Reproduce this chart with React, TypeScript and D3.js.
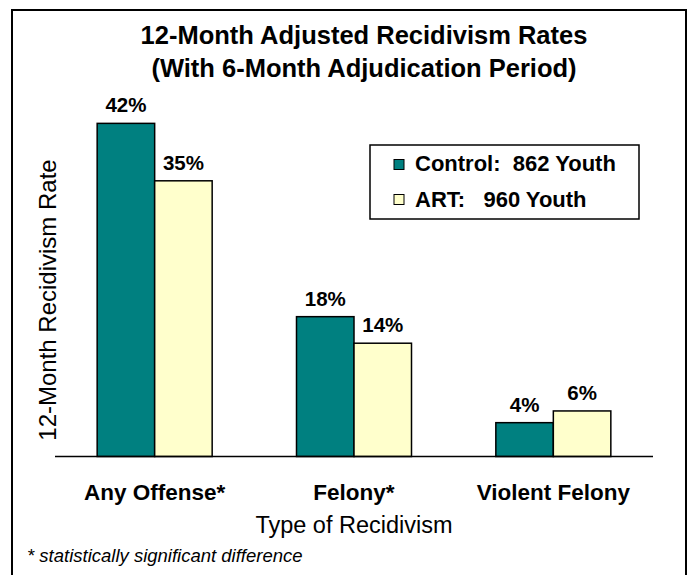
import React from "react";
import * as d3 from "d3";

const categories = ["Any Offense*", "Felony*", "Violent Felony"];
const seriesNames = ["Control:  862 Youth", "ART:   960 Youth"];
const controlValues = [42.05, 17.65, 4.27];
const artValues = [34.8, 14.3, 5.75];
const colors = ["#008080", "#FFFFCC"];
const titleLines = ["12-Month Adjusted Recidivism Rates", "(With 6-Month Adjudication Period)"];
const yTitle = "12-Month Recidivism Rate";
const xTitle = "Type of Recidivism";
const footnote = "* statistically significant difference";

const W = 690;
const H = 575;
const FONT = "'Liberation Sans', Arial, sans-serif";

export default function App() {
  const x0 = d3.scaleBand().domain(categories).range([55, 653]).paddingInner(0).paddingOuter(0);
  const groupW = 115;
  const x1 = d3.scaleBand().domain(["0", "1"]).range([0, groupW]);
  const y = d3.scaleLinear().domain([0, 45]).range([456.5, 100]);
  const series = [controlValues, artValues];

  return (
    <svg width={W} height={H} style={{ position: "absolute", left: 0, top: 0, background: "#fff" }}>
      <rect x={12} y={10} width={674} height={566} fill="#fff" stroke="#000" strokeWidth={2} />
      {titleLines.map((t, i) => (
        <text key={i} x={364} y={44 + i * 33} textAnchor="middle" fontFamily={FONT} fontWeight="bold" fontSize={25.5}>
          {t}
        </text>
      ))}
      {categories.map((c, ci) => {
        const gx = (x0(c) as number) + (x0.bandwidth() - groupW) / 2;
        return (
          <g key={c}>
            {series.map((vals, si) => {
              const bx = gx + (x1(String(si)) as number);
              const by = y(vals[ci]);
              return (
                <g key={si}>
                  <rect x={bx} y={by} width={x1.bandwidth()} height={y(0) - by} fill={colors[si]} stroke="#000" strokeWidth={1.5} />
                  <text x={bx + x1.bandwidth() / 2} y={by - 11} textAnchor="middle" fontFamily={FONT} fontWeight="bold" fontSize={20.5}>
                    {Math.round(vals[ci]) + "%"}
                  </text>
                </g>
              );
            })}
            <text x={(x0(c) as number) + x0.bandwidth() / 2} y={500} textAnchor="middle" fontFamily={FONT} fontWeight="bold" fontSize={22.5}>
              {c}
            </text>
          </g>
        );
      })}
      <line x1={55} x2={653} y1={y(0)} y2={y(0)} stroke="#000" strokeWidth={1.5} />
      <text x={354} y={533} textAnchor="middle" fontFamily={FONT} fontSize={23.5}>{xTitle}</text>
      <text transform={`translate(56,300) rotate(-90)`} textAnchor="middle" fontFamily={FONT} fontSize={24}>{yTitle}</text>
      <text x={27} y={562} fontFamily={FONT} fontStyle="italic" fontSize={18.5}>{footnote}</text>
      <rect x={370} y={145} width={269} height={74} fill="#fff" stroke="#000" strokeWidth={1.5} />
      {seriesNames.map((s, i) => (
        <g key={s}>
          <rect x={394} y={159.5 + i * 35} width={10} height={10} fill={colors[i]} stroke="#000" strokeWidth={1} />
          <text x={415} y={171 + i * 36} fontFamily={FONT} fontWeight="bold" fontSize={22} style={{ whiteSpace: "pre" }}>
            {s}
          </text>
        </g>
      ))}
    </svg>
  );
}
